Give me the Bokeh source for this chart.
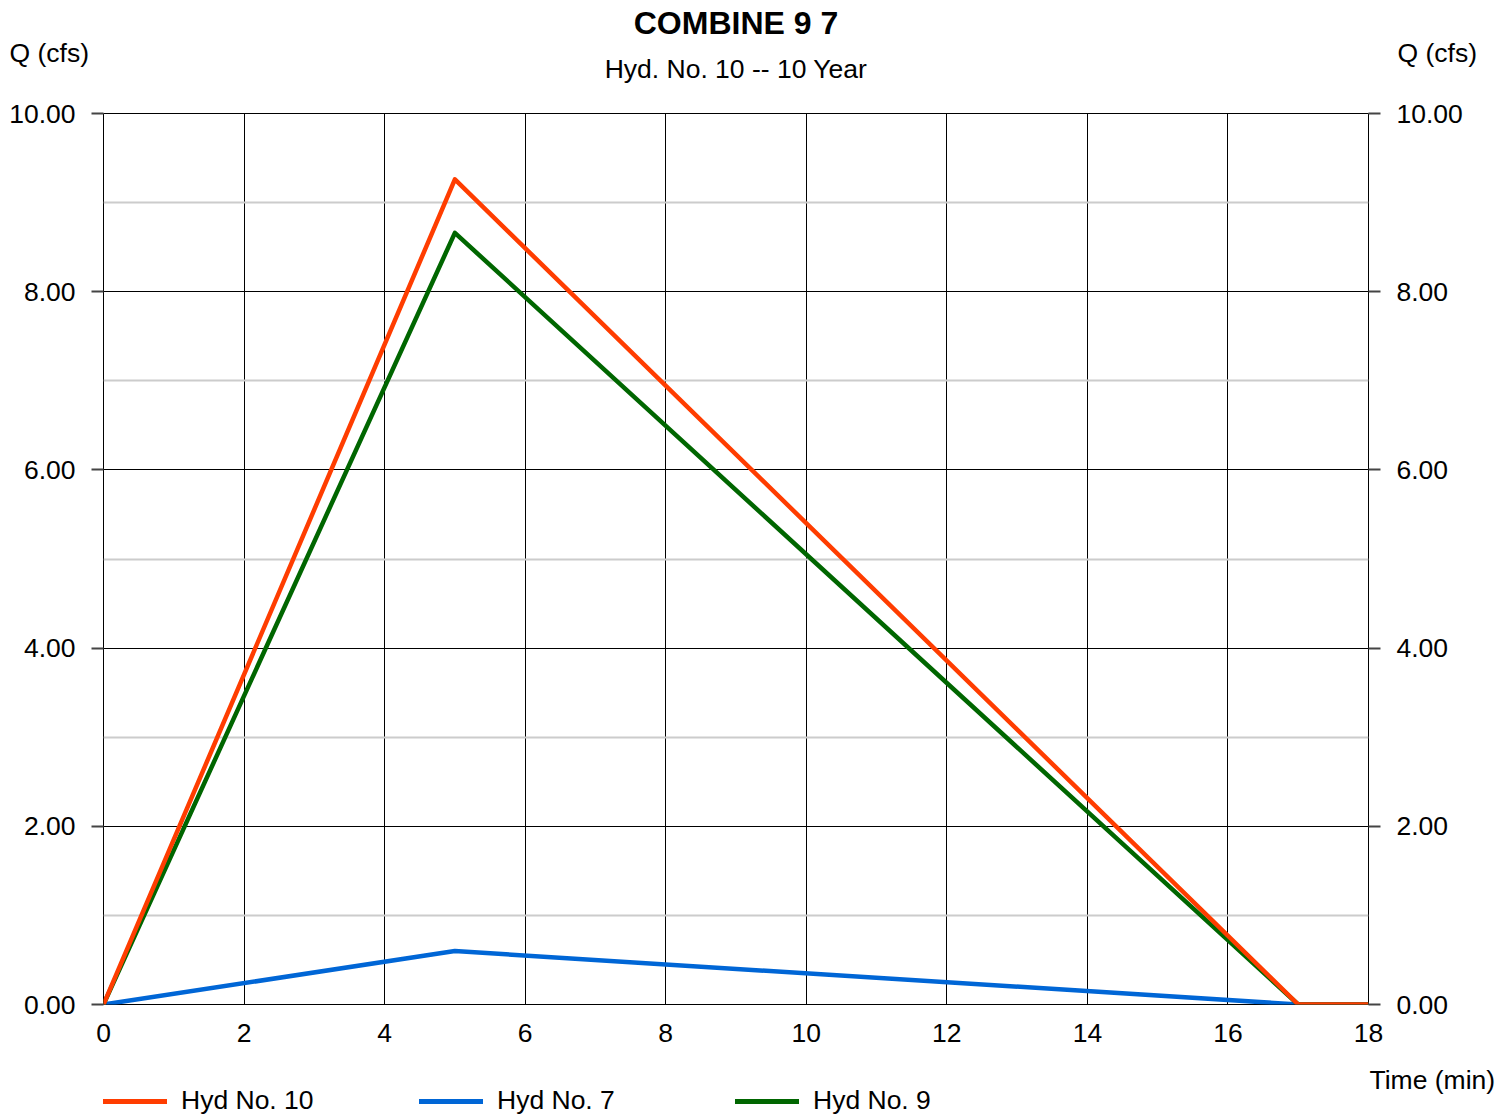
from bokeh.plotting import figure
from bokeh.layouts import column
from bokeh.models import (Range1d, LinearAxis, FixedTicker, NumeralTickFormatter,
                          Label, Legend, LegendItem)
from bokeh.embed import file_html
from bokeh.resources import INLINE

# ---- data ----
time_min = [0, 5, 17, 18]
hyd10 = [0.0, 9.26, 0.0, 0.0]
hyd7 = [0.0, 0.60, 0.0, 0.0]
hyd9 = [0.0, 8.66, 0.0, 0.0]
x_ticks = [0, 2, 4, 6, 8, 10, 12, 14, 16, 18]
y_ticks = [0, 2, 4, 6, 8, 10]
y_minor = [1, 3, 5, 7, 9]
series_names = ["Hyd No. 10", "Hyd No. 7", "Hyd No. 9"]
series_values = [hyd10, hyd7, hyd9]
series_colors = ["#FF3D00", "#0066D6", "#006600"]
title_text = "COMBINE 9 7"
subtitle_text = "Hyd. No. 10 -- 10 Year"
y_label = "Q (cfs)"
x_label = "Time (min)"

FONT = "Liberation Sans"
FS = "26.5px"
W = 1510
H_HEAD = 96
H_MAIN = 960
H_FOOT = 1116 - H_HEAD - H_MAIN


def bare_fig(h):
    f = figure(width=W, height=h, output_backend="svg", toolbar_location=None,
               x_range=Range1d(0, W), y_range=Range1d(h, 0),
               min_border=0, x_axis_location=None, y_axis_location=None)
    f.outline_line_color = None
    f.xgrid.visible = False
    f.ygrid.visible = False
    f.background_fill_color = "white"
    f.border_fill_color = "white"
    return f


# ---- header ----
head = bare_fig(H_HEAD)
head.add_layout(Label(x=735.5, y=22, text=title_text, text_align="center", text_baseline="middle",
                      text_font=FONT, text_font_size="32px", text_font_style="bold", text_color="black"))
head.add_layout(Label(x=735.5, y=68, text=subtitle_text, text_align="center", text_baseline="middle",
                      text_font=FONT, text_font_size=FS, text_color="black"))
head.add_layout(Label(x=9, y=52, text=y_label, text_align="left", text_baseline="middle",
                      text_font=FONT, text_font_size=FS, text_color="black"))
head.add_layout(Label(x=1397, y=52, text=y_label, text_align="left", text_baseline="middle",
                      text_font=FONT, text_font_size=FS, text_color="black"))

# ---- main plot ----
p = figure(width=W, height=H_MAIN, output_backend="svg", toolbar_location=None,
           x_range=Range1d(0, 18), y_range=Range1d(0, 10),
           min_border_left=103, min_border_right=142,
           min_border_top=113 - H_HEAD, min_border_bottom=H_HEAD + H_MAIN - 1004,
           x_axis_location=None, y_axis_location=None)
p.outline_line_color = "black"
p.outline_line_width = 1
p.background_fill_color = "white"
p.border_fill_color = "white"

xaxis = LinearAxis(ticker=FixedTicker(ticks=x_ticks))
xaxis.major_tick_out = 0
xaxis.major_tick_in = 0
xaxis.minor_tick_out = 0
xaxis.minor_tick_in = 0
xaxis.axis_line_color = None
xaxis.major_label_standoff = 19
p.add_layout(xaxis, "below")

yl = LinearAxis(ticker=FixedTicker(ticks=y_ticks), formatter=NumeralTickFormatter(format="0.00"))
yr = LinearAxis(ticker=FixedTicker(ticks=y_ticks), formatter=NumeralTickFormatter(format="0.00"))
for ax in (yl, yr):
    ax.major_tick_out = 12
    ax.major_tick_in = 0
    ax.minor_tick_out = 0
    ax.minor_tick_in = 0
    ax.major_tick_line_color = "#444444"
    ax.major_tick_line_width = 2
    ax.axis_line_color = None
    ax.major_label_standoff = 16
p.add_layout(yl, "left")
p.add_layout(yr, "right")

for ax in (xaxis, yl, yr):
    ax.major_label_text_font = FONT
    ax.major_label_text_font_size = FS
    ax.major_label_text_color = "black"

p.xgrid.ticker = FixedTicker(ticks=x_ticks)
p.xgrid.grid_line_color = "black"
p.xgrid.grid_line_width = 1
p.ygrid.ticker = FixedTicker(ticks=y_ticks, minor_ticks=y_minor)
p.ygrid.grid_line_color = "black"
p.ygrid.grid_line_width = 1
p.ygrid.minor_grid_line_color = "#cccccc"
p.ygrid.minor_grid_line_width = 2

# draw order: Hyd 7, Hyd 9, Hyd 10 on top
for idx in (1, 2, 0):
    p.line(time_min, series_values[idx], line_color=series_colors[idx],
           line_width=4.5, line_join="round")

# ---- footer (legend + x label) ----
foot = bare_fig(H_FOOT)
items = []
for name, vals, col in zip(series_names, series_values, series_colors):
    r = foot.line(x=time_min, y=vals, line_color=col, line_width=5, line_cap="round", visible=False)
    items.append(LegendItem(label=name, renderers=[r]))
legend = Legend(items=items, orientation="horizontal", location=(103, 0),
                glyph_width=64, glyph_height=30, label_height=30, label_width=200,
                label_standoff=14, spacing=38, padding=0, margin=0,
                border_line_alpha=0, background_fill_alpha=0,
                inactive_fill_alpha=0, click_policy="none",
                label_text_font=FONT, label_text_font_size=FS, label_text_color="black")
foot.add_layout(legend, "center")
foot.add_layout(Label(x=1369, y=1079 - H_HEAD - H_MAIN, text=x_label, text_align="left",
                      text_baseline="middle", text_font=FONT, text_font_size=FS, text_color="black"))

layout = column(head, column(p), foot, spacing=0)
open("out.html", "w").write(file_html(layout, INLINE))
